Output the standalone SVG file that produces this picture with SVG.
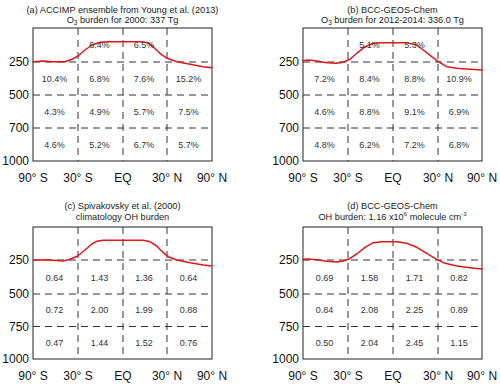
<svg xmlns="http://www.w3.org/2000/svg" width="500" height="384" viewBox="0 0 500 384">
<style>
text{font-family:"Liberation Sans",Arial,sans-serif;}
.ttl{font-size:9.2px;fill:#222;text-anchor:middle;}
.yl{font-size:12px;fill:#111;text-anchor:end;}
.xl{font-size:12px;fill:#111;text-anchor:middle;}
.cv{font-size:9px;fill:#333;text-anchor:middle;}
.box{fill:#fff;stroke:#222;stroke-width:1;}
.dh{stroke:#333;stroke-width:1;stroke-dasharray:7 5;fill:none;}
.curve{fill:none;stroke:#e01818;stroke-width:1.5;stroke-linejoin:round;stroke-linecap:round;}
</style>
<rect width="500" height="384" fill="#fff"/>

<g id="panel-a">
<text class="ttl" x="122.5" y="12.5">(a) ACCIMP ensemble from Young et al. (2013)</text>
<text class="ttl" x="122.5" y="22.5">O<tspan font-size="6.5" dy="2">3</tspan><tspan dy="-2"> burden for 2000: 337 Tg</tspan></text>
<rect class="box" x="33" y="28" width="179" height="133"/>
<path class="dh" d="M33 62H212M33 95H212M33 128H212M78 28V161M123 28V161M167 28V161"/>
<path class="curve" d="M33 61.7L43 61L53 61.7L65 61.7L72 59.3L78 56L85 50L92 45L100 42.3L110 41.7L140 41.7L148 42.7L153 46.7L160 53.3L167 58.3L177 61.7L190 64.3L203 66.7L212 67.7"/>
<text class="cv" x="99.5" y="48">6.4%</text><text class="cv" x="144" y="48">6.5%</text>
<text class="cv" x="54.5" y="82">10.4%</text><text class="cv" x="99.5" y="82">6.8%</text><text class="cv" x="144" y="82">7.6%</text><text class="cv" x="188.5" y="82">15.2%</text>
<text class="cv" x="54.5" y="115">4.3%</text><text class="cv" x="99.5" y="115">4.9%</text><text class="cv" x="144" y="115">5.7%</text><text class="cv" x="188.5" y="115">7.5%</text>
<text class="cv" x="54.5" y="147.5">4.6%</text><text class="cv" x="99.5" y="147.5">5.2%</text><text class="cv" x="144" y="147.5">6.7%</text><text class="cv" x="188.5" y="147.5">5.7%</text>
<text class="yl" x="29" y="66.3">250</text><text class="yl" x="29" y="99.3">500</text><text class="yl" x="29" y="132.3">700</text><text class="yl" x="29" y="165.3">1000</text>
<text class="xl" x="33" y="181.5">90° S</text><text class="xl" x="78" y="181.5">30° S</text><text class="xl" x="123" y="181.5">EQ</text><text class="xl" x="167" y="181.5">30° N</text><text class="xl" x="212" y="181.5">90° N</text>
</g>

<g id="panel-b">
<text class="ttl" x="392.5" y="12.5">(b) BCC-GEOS-Chem</text>
<text class="ttl" x="392.5" y="22.5">O<tspan font-size="6.5" dy="2">3</tspan><tspan dy="-2"> burden for 2012-2014: 336.0 Tg</tspan></text>
<rect class="box" x="303" y="28" width="179" height="133"/>
<path class="dh" d="M303 62H482M303 95H482M303 128H482M348 28V161M393 28V161M438 28V161"/>
<path class="curve" d="M302.7 60.7L308.3 60L316.7 61L326.7 62.7L336 63.3L343.3 62.3L350 59.3L356.7 53.3L365 46.7L373.3 43.3L383.3 42.7L406.7 42.7L416.7 45L423.3 50L431.7 56.7L438.3 61.7L446.7 66.7L456.7 68.3L470 69.3L482 70"/>
<text class="cv" x="369.5" y="48">5.1%</text><text class="cv" x="414.5" y="48">5.3%</text>
<text class="cv" x="324.5" y="82">7.2%</text><text class="cv" x="369.5" y="82">8.4%</text><text class="cv" x="414.5" y="82">8.8%</text><text class="cv" x="459" y="82">10.9%</text>
<text class="cv" x="324.5" y="115">4.6%</text><text class="cv" x="369.5" y="115">8.8%</text><text class="cv" x="414.5" y="115">9.1%</text><text class="cv" x="459" y="115">6.9%</text>
<text class="cv" x="324.5" y="147.5">4.8%</text><text class="cv" x="369.5" y="147.5">6.2%</text><text class="cv" x="414.5" y="147.5">7.2%</text><text class="cv" x="459" y="147.5">6.8%</text>
<text class="yl" x="299" y="66.3">250</text><text class="yl" x="299" y="99.3">500</text><text class="yl" x="299" y="132.3">700</text><text class="yl" x="299" y="165.3">1000</text>
<text class="xl" x="303" y="181.5">90° S</text><text class="xl" x="348" y="181.5">30° S</text><text class="xl" x="393" y="181.5">EQ</text><text class="xl" x="438" y="181.5">30° N</text><text class="xl" x="482" y="181.5">90° N</text>
</g>

<g id="panel-c">
<text class="ttl" x="122.5" y="209">(c) Spivakovsky et al. (2000)</text>
<text class="ttl" x="122.5" y="219.5">climatology OH burden</text>
<rect class="box" x="33" y="227" width="179" height="132"/>
<path class="dh" d="M33 260H212M33 294H212M33 326.5H212M78 227V359M123 227V359M167 227V359"/>
<path class="curve" d="M33.3 260.3L43.3 259.7L53.3 260.3L63.3 261L70 259.3L77.7 256L85 250L91.7 244L96.7 241.3L103.3 240.3L143.3 240.3L150 241.7L156.7 246L163.3 252.7L168.3 256.7L176.7 260L190 262.7L203.3 265L212 266"/>
<text class="cv" x="54.5" y="280.5">0.64</text><text class="cv" x="99.5" y="280.5">1.43</text><text class="cv" x="144" y="280.5">1.36</text><text class="cv" x="188.5" y="280.5">0.64</text>
<text class="cv" x="54.5" y="313">0.72</text><text class="cv" x="99.5" y="313">2.00</text><text class="cv" x="144" y="313">1.99</text><text class="cv" x="188.5" y="313">0.88</text>
<text class="cv" x="54.5" y="346">0.47</text><text class="cv" x="99.5" y="346">1.44</text><text class="cv" x="144" y="346">1.52</text><text class="cv" x="188.5" y="346">0.76</text>
<text class="yl" x="29" y="264.3">250</text><text class="yl" x="29" y="298.3">500</text><text class="yl" x="29" y="330.8">750</text><text class="yl" x="29" y="363.3">1000</text>
<text class="xl" x="33" y="379.5">90° S</text><text class="xl" x="78" y="379.5">30° S</text><text class="xl" x="123" y="379.5">EQ</text><text class="xl" x="167" y="379.5">30° N</text><text class="xl" x="212" y="379.5">90° N</text>
</g>

<g id="panel-d">
<text class="ttl" x="392.5" y="209">(d) BCC-GEOS-Chem</text>
<text class="ttl" x="392.5" y="219.5">OH burden: 1.16 x10<tspan font-size="6" dy="-3.5">6</tspan><tspan dy="3.5"> molecule cm</tspan><tspan font-size="6" dy="-3.5">-3</tspan></text>
<rect class="box" x="303" y="227" width="179" height="132"/>
<path class="dh" d="M303 260H482M303 294H482M303 326.5H482M348 227V359M393 227V359M438 227V359"/>
<path class="curve" d="M302.7 259.3L308.3 259L316.7 259.7L326.7 261.3L336 262L343.3 261L348.3 259.3L356.7 254L365 247.3L373.3 242.7L381.7 241.7L396.7 241.7L406.7 243.3L416.7 247.3L426.7 253.3L436.7 259.3L443.3 262.7L456.7 266L470 267.7L482 269"/>
<text class="cv" x="324.5" y="280.5">0.69</text><text class="cv" x="369.5" y="280.5">1.58</text><text class="cv" x="414.5" y="280.5">1.71</text><text class="cv" x="459" y="280.5">0.82</text>
<text class="cv" x="324.5" y="313">0.84</text><text class="cv" x="369.5" y="313">2.08</text><text class="cv" x="414.5" y="313">2.25</text><text class="cv" x="459" y="313">0.89</text>
<text class="cv" x="324.5" y="346">0.50</text><text class="cv" x="369.5" y="346">2.04</text><text class="cv" x="414.5" y="346">2.45</text><text class="cv" x="459" y="346">1.15</text>
<text class="yl" x="299" y="264.3">250</text><text class="yl" x="299" y="298.3">500</text><text class="yl" x="299" y="330.8">750</text><text class="yl" x="299" y="363.3">1000</text>
<text class="xl" x="303" y="379.5">90° S</text><text class="xl" x="348" y="379.5">30° S</text><text class="xl" x="393" y="379.5">EQ</text><text class="xl" x="438" y="379.5">30° N</text><text class="xl" x="482" y="379.5">90° N</text>
</g>
</svg>
